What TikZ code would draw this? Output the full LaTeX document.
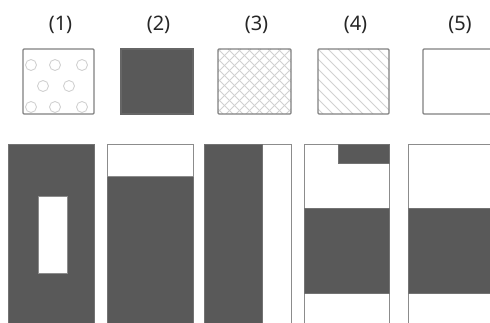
\documentclass[tikz,border=0pt]{standalone}
\usepackage{fontspec}
\setmainfont{Noto Sans}
\begin{document}
\begin{tikzpicture}[x=1pt,y=-1pt,
  lab/.style={font=\fontsize{20}{22}\selectfont, text=black!85, inner sep=0pt, anchor=center},
  frame/.style={draw=black!50, line width=1.2pt},
  dark/.style={fill=black!65, draw=black!55, line width=1pt},
  light/.style={fill=white, draw=black!45, line width=1pt},
  pat/.style={draw=black!18, line width=0.9pt}]
\useasboundingbox (0,0) rectangle (490,323);
\clip (0,0) rectangle (490,323);
% labels
\node[lab] (l1) at (60.5,25) {(1)};
\node[lab] (l2) at (158.5,25) {(2)};
\node[lab] (l3) at (256.5,25) {(3)};
\node[lab] (l4) at (355.5,25) {(4)};
\node[lab] (l5) at (460,25) {(5)};
% square 1: circles
\begin{scope}
\clip (23,49) rectangle (94,114);
\foreach \cx in {31,55,82} {
  \draw[pat] (\cx,65) circle (5.5);
  \draw[pat] (\cx,107) circle (5.5);
}
\foreach \cx in {43,69} \draw[pat] (\cx,86) circle (5.5);
\end{scope}
\draw[frame, rounded corners=1pt] (23,49) rectangle (94,114);
% square 2
\draw[dark, draw=black!60, line width=1.2pt] (121,49) rectangle (193,114);
% square 3: crosshatch
\begin{scope}
\clip (218,49) rectangle (291,114);
\foreach \k in {-80,-70,...,80} {
  \draw[pat] (218+\k,49) -- ++(80,80);
  \draw[pat] (291+\k,49) -- ++(-80,80);
}
\end{scope}
\draw[frame, rounded corners=1pt] (218,49) rectangle (291,114);
% square 4: diagonal lines
\begin{scope}
\clip (318,49) rectangle (389,114);
\foreach \k in {-80,-70,...,80} {
  \draw[pat] (318+\k,49) -- ++(80,80);
}
\end{scope}
\draw[frame, rounded corners=1pt] (318,49) rectangle (389,114);
% square 5
\draw[frame, rounded corners=1pt] (423,49) rectangle (500,114);
% bottom 1
\draw[dark] (8,145) rectangle (94,330);
\draw[light] (38,197) rectangle (67,273);
% bottom 2
\draw[dark] (107,145) rectangle (193,330);
\draw[light] (107,145) rectangle (193,177);
% bottom 3
\draw[light] (204,145) rectangle (291,330);
\draw[dark] (204,145) rectangle (262,330);
% bottom 4
\draw[light] (304,145) rectangle (389,330);
\draw[dark] (338,145) rectangle (389,164);
\draw[dark] (304,209) rectangle (389,293);
% bottom 5
\draw[light] (408,145) rectangle (500,330);
\draw[dark] (408,209) rectangle (500,293);
\end{tikzpicture}
\end{document}
